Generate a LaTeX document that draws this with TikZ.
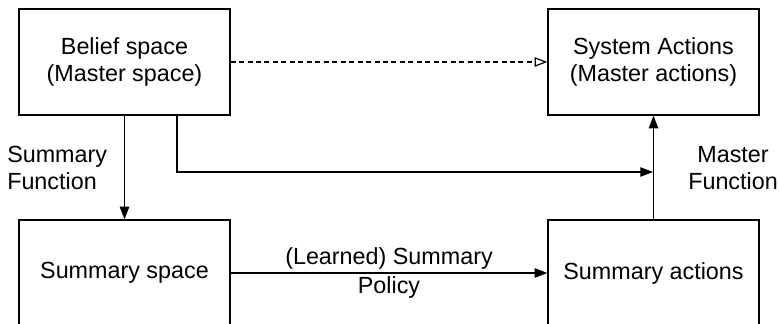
\documentclass[tikz,border=0pt]{standalone}
\usepackage{fontspec}
\setmainfont{Liberation Sans}
\usetikzlibrary{arrows.meta}
\begin{document}
\begin{tikzpicture}[x=0.75pt,y=-0.75pt,
  box/.style={draw,line width=0.9pt,minimum width=211*0.75pt,minimum height=106*0.75pt,align=center,inner sep=0pt,font=\fontsize{17.5}{20}\selectfont},
  lbl/.style={align=left,inner sep=0pt,font=\fontsize{17.5}{20}\selectfont},
  conn/.style={line width=0.9pt,-{Triangle[length=9.5pt,width=7pt]}},
  dconn/.style={line width=0.9pt,dash pattern=on 3.75pt off 2.6pt,-{Triangle[open,length=9.5pt,width=7pt]}}]
\useasboundingbox (0,0) rectangle (779,324);
\node[box] (belief) at (124.5,62) {Belief space\\(Master space)};
\node[box] (sys) at (653.5,62) {System Actions\\(Master actions)};
\node[box] (sspace) at (124.5,273) {Summary space};
\node[box] (sact) at (653.5,273) {Summary actions};
\coordinate (bend) at (177,172);
\coordinate (join) at (653,172);
\draw[dconn] (belief.east) -- (sys.west);
\draw[conn] (belief.south) -- (sspace.north);
\draw[conn] (belief.south -| bend) -- (bend) -- (join);
\draw[conn] (sact.north) -- (sys.south);
\draw[conn] (sspace.east) -- node[above=-1pt,font=\fontsize{17.5}{20}\selectfont]{(Learned) Summary} node[below=-1pt,font=\fontsize{17.5}{20}\selectfont]{Policy} (sact.west);
\node[lbl,anchor=west] (sf) at (7,168) {Summary\\Function};
\node[lbl,anchor=west,align=center] (mf) at (688,168) {Master\\Function};
\end{tikzpicture}
\end{document}
